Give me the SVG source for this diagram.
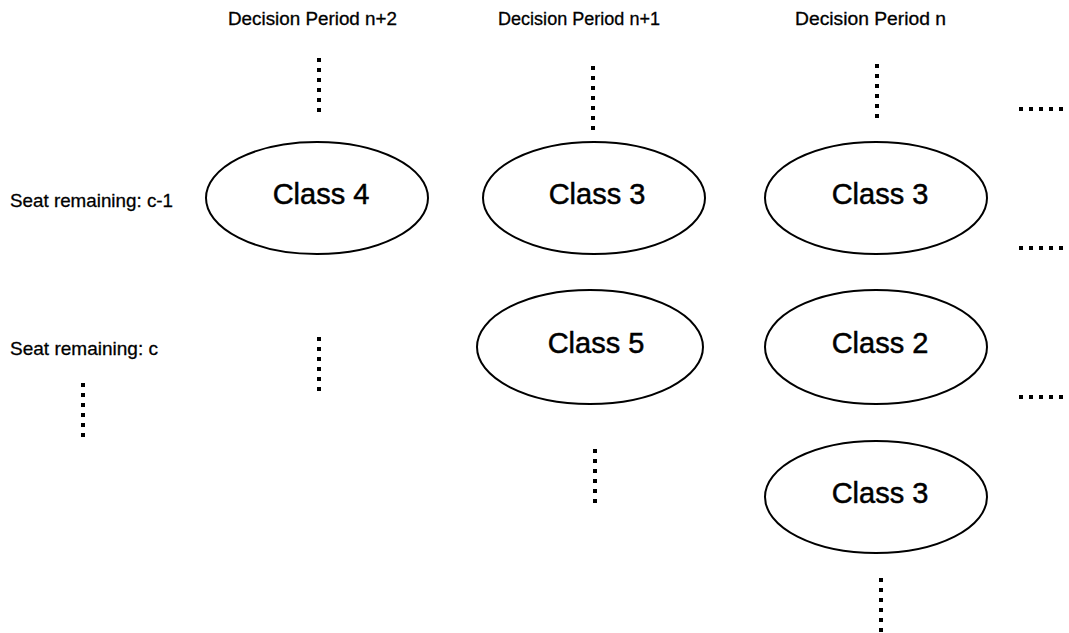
<svg xmlns="http://www.w3.org/2000/svg" width="1069" height="633" viewBox="0 0 1069 633">
  <style>
    .node ellipse { fill: #ffffff; stroke: #000000; stroke-width: 2; }
    .node text { font-family: "Liberation Sans", Arial, sans-serif; font-size: 29px; fill: #000000; stroke: #000000; stroke-width: 0.5; text-anchor: middle; }
    .label { font-family: "Liberation Sans", Arial, sans-serif; fill: #000000; stroke: #000000; stroke-width: 0.3; }
    .period { font-size: 18px; }
    .seat { font-size: 19px; }
    .dots line { stroke: #000000; stroke-width: 4; stroke-dasharray: 4 6; fill: none; }
  </style>
  <rect width="1069" height="633" fill="#ffffff"/>

  <!-- column headings -->
  <g id="headings">
    <text class="label period" x="228" y="25" textLength="169" lengthAdjust="spacingAndGlyphs">Decision Period n+2</text>
    <text class="label period" x="498" y="25" textLength="162" lengthAdjust="spacingAndGlyphs">Decision Period n+1</text>
    <text class="label period" x="795" y="25" textLength="151" lengthAdjust="spacingAndGlyphs">Decision Period n</text>
  </g>

  <!-- row labels -->
  <g id="rows">
    <text class="label seat" x="10" y="207" textLength="163" lengthAdjust="spacingAndGlyphs">Seat remaining: c-1</text>
    <text class="label seat" x="10" y="355" textLength="148" lengthAdjust="spacingAndGlyphs">Seat remaining: c</text>
  </g>

  <!-- continuation dots -->
  <g id="connectors" class="dots">
    <line x1="319" y1="58" x2="319" y2="112"/>
    <line x1="593" y1="66" x2="593" y2="130"/>
    <line x1="877" y1="64" x2="877" y2="118"/>
    <line x1="319" y1="337" x2="319" y2="391"/>
    <line x1="595" y1="449" x2="595" y2="503"/>
    <line x1="881" y1="578" x2="881" y2="632"/>
    <line x1="83" y1="383" x2="83" y2="437"/>
    <line x1="1019" y1="109" x2="1071" y2="109"/>
    <line x1="1019" y1="248" x2="1071" y2="248"/>
    <line x1="1019" y1="397" x2="1071" y2="397"/>
  </g>

  <!-- decision nodes -->
  <g id="n2-class4" class="node">
    <ellipse cx="317" cy="198" rx="111" ry="56"/>
    <text x="321" y="204">Class 4</text>
  </g>
  <g id="n1-class3" class="node">
    <ellipse cx="594" cy="198" rx="111" ry="56"/>
    <text x="597" y="204">Class 3</text>
  </g>
  <g id="n1-class5" class="node">
    <ellipse cx="590" cy="347" rx="113" ry="57"/>
    <text x="596" y="353">Class 5</text>
  </g>
  <g id="n-class3-top" class="node">
    <ellipse cx="876" cy="198" rx="111" ry="56"/>
    <text x="880" y="204">Class 3</text>
  </g>
  <g id="n-class2" class="node">
    <ellipse cx="876" cy="347" rx="111" ry="57"/>
    <text x="880" y="353">Class 2</text>
  </g>
  <g id="n-class3-bottom" class="node">
    <ellipse cx="876" cy="497" rx="111" ry="56"/>
    <text x="880" y="503">Class 3</text>
  </g>
</svg>
